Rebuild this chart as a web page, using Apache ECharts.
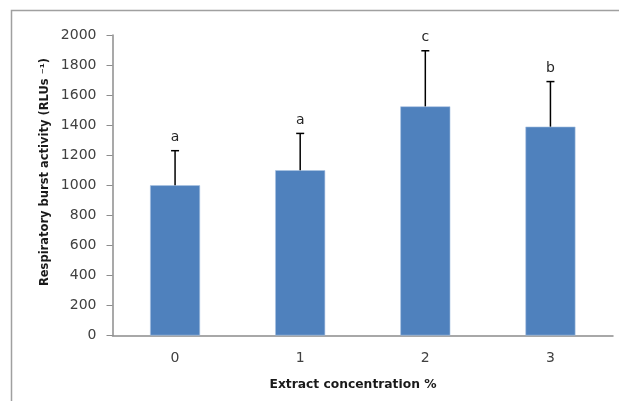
<!DOCTYPE html>
<html>
<head>
<meta charset="utf-8">
<script src="https://cdn.jsdelivr.net/npm/echarts@6/dist/echarts.min.js"></script>
<style>html,body{margin:0;padding:0;background:#fff;}#c{width:619px;height:401px;}</style>
</head>
<body>
<div id="c"></div>
<script>
const categories = ['0', '1', '2', '3'];
const means = [1000, 1100, 1525, 1390];
const upperErr = [1230, 1345, 1895, 1690];
const letters = ['a', 'a', 'c', 'b'];
const yMin = 0, yMax = 2000, yStep = 200;
const xTitle = 'Extract concentration %';
const yTitle = 'Respiratory burst activity (RLUs \u207B\u00B9)';

const chart = echarts.init(document.getElementById('c'), null, {renderer: 'canvas'});
const errData = categories.map((c, i) => [i, means[i], upperErr[i]]);

chart.setOption({
  animation: false,
  backgroundColor: '#fff',
  grid: {left: 112.5, right: 6, top: 35, bottom: 65.5, containLabel: false},
  xAxis: {
    type: 'category',
    data: categories,
    axisLine: {lineStyle: {color: '#8c8c8c', width: 1.5}},
    axisTick: {show: false},
    axisLabel: {color: '#404040', fontFamily: 'DejaVu Sans', fontSize: 14, margin: 16}
  },
  yAxis: {
    type: 'value',
    min: yMin, max: yMax, interval: yStep,
    axisLine: {show: true, lineStyle: {color: '#8c8c8c', width: 1.5}},
    axisTick: {show: true, length: 6, lineStyle: {color: '#8c8c8c'}},
    splitLine: {show: false},
    axisLabel: {color: '#404040', fontFamily: 'DejaVu Sans', fontSize: 14, margin: 16,
                formatter: function (v) { return String(v); }}
  },
  graphic: [
    {type: 'rect', z: -10, shape: {x: 11.5, y: 10.5, width: 800, height: 600},
     style: {fill: 'none', stroke: '#a0a0a0', lineWidth: 1.5}},
    {type: 'text', x: 353, y: 385, style: {text: xTitle, font: 'bold 12.3px "DejaVu Sans"',
     fill: '#1a1a1a', align: 'center', verticalAlign: 'middle'}},
    {type: 'text', x: 45, y: 172, rotation: Math.PI / 2, style: {text: yTitle,
     font: 'bold 11.5px "DejaVu Sans"', fill: '#1a1a1a', align: 'center', verticalAlign: 'middle'}}
  ],
  series: [
    {
      type: 'bar',
      data: means,
      barWidth: 50,
      itemStyle: {color: '#4F81BD', borderColor: '#a9c3e3', borderWidth: 0.6}
    },
    {
      type: 'custom',
      data: errData,
      encode: {x: 0, y: [1, 2]},
      z: 5,
      renderItem: function (params, api) {
        const i = api.value(0);
        const p0 = api.coord([i, api.value(1)]);
        const p1 = api.coord([i, api.value(2)]);
        const st = {stroke: '#000', lineWidth: 1.5};
        return {
          type: 'group',
          children: [
            {type: 'line', shape: {x1: p0[0], y1: p0[1], x2: p1[0], y2: p1[1]}, style: st},
            {type: 'line', shape: {x1: p1[0] - 4, y1: p1[1], x2: p1[0] + 4, y2: p1[1]}, style: st},
            {type: 'text', x: p1[0], y: p1[1] - 13,
             style: {text: letters[i], font: '14px "DejaVu Sans"', fill: '#262626',
                     align: 'center', verticalAlign: 'middle'}}
          ]
        };
      }
    }
  ]
});
</script>
</body>
</html>
